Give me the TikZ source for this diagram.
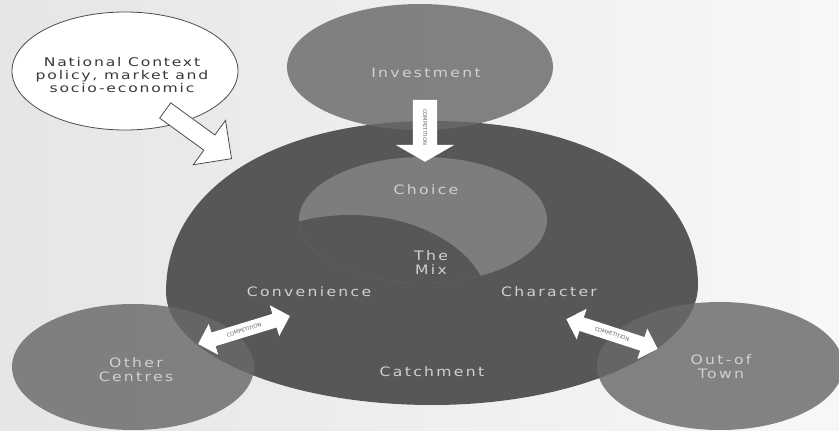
\documentclass[tikz,border=0pt]{standalone}
\usepackage{fontspec}
\setmainfont{DejaVu Sans}
\newfontfamily\lblfont[LetterSpace=18,FakeStretch=1.2]{DejaVu Sans}
\newfontfamily\ctxfont[LetterSpace=15,FakeStretch=1.3]{DejaVu Sans}
\usetikzlibrary{shapes.geometric,shapes.arrows}

\definecolor{maingray}{gray}{0.34}
\definecolor{choicegray}{gray}{0.49}
\definecolor{satgray}{gray}{0.41}
\definecolor{lblcol}{gray}{0.82}

\begin{document}
\begin{tikzpicture}[x=1pt,y=-1pt,
      blob/.style={ellipse,inner sep=0pt},
      sat/.style={blob,fill=satgray,fill opacity=0.82},
      lbl/.style={text=lblcol,align=center,font=\lblfont\fontsize{13pt}{14pt}\selectfont},
      comp/.style={fill=white,text=black!60,inner xsep=2pt,text height=3.8pt,text depth=0pt,
        font=\fontsize{5.2pt}{6pt}\selectfont},
      twoway/.style={comp,double arrow,double arrow head extend=9pt,minimum height=96pt,inner ysep=5pt}
    ]
      \shade[left color=black!10,right color=black!3] (0,0) rectangle (839,431);
      \useasboundingbox (0,0) rectangle (839,431);
      % the main area
      \fill[maingray] (432,121) .. controls (592,121) and (698,186) .. (698,285)
        .. controls (698,351) and (578,405) .. (432,405)
        .. controls (286,405) and (166,354) .. (166,292)
        .. controls (166,190) and (272,121) .. (432,121) -- cycle;
      \node[blob,fill=choicegray,minimum width=248pt,minimum height=126pt] (choice) at (423,220) {};
      \begin{scope}
        \clip (choice.center) ellipse [x radius=124pt,y radius=63pt];
        \fill[maingray] (350,310) ellipse [x radius=140pt,y radius=95pt];
      \end{scope}
      % outer circles
      \node[sat,minimum width=266pt,minimum height=126pt] (invest) at (420,67) {};
      \node[sat,minimum width=242pt,minimum height=126pt] (other) at (133,367) {};
      \node[sat,minimum width=246pt,minimum height=128pt] (outtown) at (720,366) {};
      % labels
      \node[lbl] (lblinv) at (426,73) {Investment};
      \node[lbl] (lblchoice) at (426,190) {Choice};
      \node[lbl] (lblmix) at (431,263) {The\\Mix};
      \node[lbl] (lblconv) at (309,292) {Convenience};
      \node[lbl] (lblchar) at (549,292) {Character};
      \node[lbl] (lblcatch) at (432,372) {Catchment};
      \node[lbl] (lblother) at (136,370) {Other\\Centres};
      \node[lbl] (lblout) at (721,367) {Out-of\\Town};
      % competition arrows
      \node[comp,single arrow,single arrow head extend=17pt,single arrow tip angle=120,
        minimum height=62pt,inner ysep=10pt,rotate=-90,anchor=tip] (cmpinv) at (425,162) {COMPETITION};
      \node[twoway,rotate=17] (cmpother) at (244,330) {COMPETITION};
      \node[twoway,rotate=-18] (cmpout) at (612,334) {COMPETITION};
      % national context
      \node[blob,draw=black!70,fill=white,line width=0.8pt,minimum width=226pt,minimum height=118pt] (bubble) at (125,71) {};
      \node[text=black!78,align=center,font=\ctxfont\fontsize{12pt}{13.3pt}\selectfont] (lblctx) at (122,75)
        {National Context\\policy, market and\\socio-economic};
      \node[single arrow,draw=black!70,fill=white,line width=0.8pt,single arrow head extend=18pt,
        minimum height=82pt,inner ysep=9pt,text height=0pt,text depth=0pt,rotate=-36,anchor=tip] (ctxarrow) at (232,159) {};
    \end{tikzpicture}
\end{document}
